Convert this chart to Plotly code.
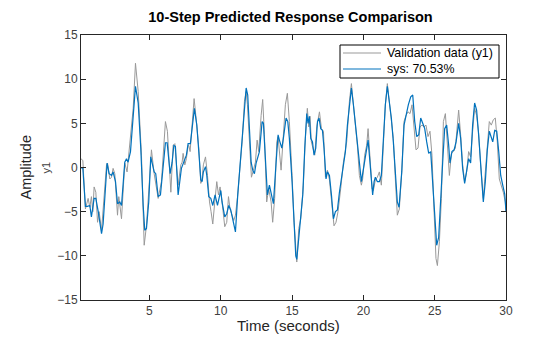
import plotly.graph_objects as go

# ---- Validation data (y1) ----
val_t = [0.19,0.33,0.51,0.70,0.82,0.93,1.03,1.12,1.24,1.36,1.47,1.64,1.99,2.06,2.22,2.34,2.45,2.57,2.76,2.85,3.04,3.27,3.43,3.50,3.86,4.02,4.21,4.44,4.63,4.79,4.95,5.14,5.33,5.61,5.84,6.12,6.26,6.43,6.50,6.66,6.78,7.01,7.20,7.29,7.36,7.48,7.59,7.71,
         7.76,7.85,8.13,8.27,8.46,8.60,8.69,8.78,8.93,9.07,9.21,9.32,9.44,9.58,9.72,9.84,9.95,10.09,10.28,10.42,10.54,10.65,10.79,10.91,11.03,11.19,11.36,11.50,11.66,11.78,11.87,12.01,12.15,12.29,12.43,12.55,12.66,12.83,12.94,13.06,13.22,13.36,13.53,13.64,13.78,13.93,14.02,14.23,14.39,14.53,14.67,14.81,15.00,15.14,
         15.33,15.47,15.61,15.79,15.93,16.07,16.17,16.26,16.35,16.50,16.59,16.73,16.92,17.06,17.20,17.34,17.48,17.62,17.76,17.94,18.08,18.22,18.41,18.60,18.83,19.02,19.16,19.30,19.44,19.58,19.72,19.86,19.95,20.09,20.23,20.33,20.47,20.61,20.70,20.84,20.98,21.12,21.26,21.40,21.54,21.68,21.82,21.96,22.10,22.24,22.38,22.52,
         22.69,22.85,22.99,23.13,23.27,23.41,23.55,23.69,23.83,23.97,24.11,24.25,24.39,24.53,24.67,24.81,24.95,25.09,25.19,25.33,25.47,25.61,25.75,25.89,26.03,26.17,26.31,26.45,26.59,26.68,26.82,26.96,27.10,27.24,27.38,27.52,27.66,27.80,27.94,28.08,28.22,28.41,28.55,28.69,28.83,28.97,29.11,29.25,29.39,29.53,29.67,29.81,29.95,30.0]
val_y = [1.0,0.8,-4.7,-3.5,-4.5,-3.3,-5.0,-2.2,-2.8,-6.2,-5.0,-7.1,0.3,0.5,-1.3,-1.1,-0.1,-0.7,-5.4,-3.3,-5.8,0.5,-0.5,0.8,6.7,11.8,8.6,1.4,-8.8,-6.6,-3.1,2.0,-0.7,-3.5,-1.6,5.2,4.1,-1.6,-2.8,2.5,2.7,-2.0,0.3,0.6,1.6,0.3,1.0,2.5,
         2.5,1.8,7.8,5.6,2.2,-1.8,-1.3,0.3,1.2,-0.9,-3.9,-5.0,-6.4,-3.9,-1.6,-3.1,-2.2,-3.9,-6.7,-6.2,-3.3,-4.7,-5.4,-6.0,-5.4,-3.1,0.3,2.9,7.5,8.6,7.1,3.3,-1.1,-0.3,0.6,3.1,1.8,5.9,7.7,3.7,-3.9,-2.4,-3.9,-6.2,-3.5,2.9,3.5,-0.3,4.4,7.1,8.4,5.2,-0.9,-6.2,
         -10.7,-6.9,-5.8,-2.0,3.3,6.7,4.6,5.8,2.9,1.8,1.4,4.6,6.3,4.4,4.1,-1.1,-0.3,-1.4,-3.5,-6.6,-6.2,-5.0,-2.4,0.6,2.9,7.5,9.5,7.5,4.8,2.5,-0.9,-2.0,-1.3,1.4,2.5,4.4,1.4,-2.4,-2.6,-1.4,-1.1,-0.5,-2.0,3.3,7.1,9.5,7.5,5.2,3.3,-1.3,-5.4,-4.7,
         -0.5,5.2,5.9,6.3,6.1,7.1,4.4,2.0,2.2,4.6,4.8,4.6,4.8,3.5,4.1,1.4,-4.7,-10.3,-11.1,-8.4,-3.5,5.2,6.1,2.9,-0.9,1.6,1.8,2.2,4.6,6.5,3.7,0.3,-1.6,-0.5,1.8,1.2,4.1,6.7,5.9,3.9,0.3,-3.5,-0.5,2.9,5.2,4.8,5.4,5.6,2.9,-1.3,-2.0,-2.8,-3.9,-5.0]

# ---- sys: 70.53% (10-step predicted response) ----
sys_t = [0.19,0.33,0.51,0.65,0.82,0.93,1.12,1.24,1.40,1.64,1.75,2.03,2.17,2.34,2.45,2.62,2.76,2.92,3.04,3.27,3.39,3.50,3.67,3.86,4.02,4.21,4.39,4.56,4.67,4.79,4.95,5.09,5.19,5.33,5.44,5.61,5.77,5.96,6.12,6.24,6.45,6.59,6.71,6.82,7.01,7.24,7.43,7.59,7.71,
         7.76,7.87,8.15,8.32,8.46,8.60,8.69,8.78,8.93,9.02,9.16,9.30,9.44,9.60,9.77,9.91,10.00,10.09,10.28,10.42,10.56,10.70,10.84,11.03,11.19,11.36,11.50,11.66,11.78,11.89,12.01,12.13,12.24,12.36,12.48,12.62,12.71,12.90,12.99,13.13,13.27,13.41,13.53,13.69,13.88,14.02,14.11,14.28,14.39,14.58,14.70,14.81,15.00,15.14,
         15.26,15.33,15.47,15.61,15.75,15.89,16.03,16.12,16.21,16.31,16.43,16.54,16.66,16.78,16.89,17.01,17.13,17.24,17.38,17.48,17.62,17.76,17.90,18.04,18.18,18.32,18.46,18.60,18.74,18.88,19.02,19.16,19.30,19.44,19.58,19.72,19.86,19.95,20.09,20.23,20.33,20.42,20.56,20.65,20.75,20.84,20.98,21.12,21.26,21.40,21.54,21.68,21.82,21.96,22.10,22.24,22.38,22.50,
         22.69,22.85,22.99,23.15,23.32,23.46,23.60,23.74,23.88,24.02,24.16,24.30,24.44,24.58,24.72,24.86,25.00,25.14,25.28,25.42,25.56,25.70,25.84,25.98,26.07,26.21,26.36,26.50,26.68,26.82,26.96,27.10,27.24,27.38,27.52,27.66,27.80,27.94,28.08,28.22,28.41,28.55,28.69,28.83,28.97,29.07,29.21,29.35,29.49,29.63,29.77,29.91,30.0]
sys_y = [0.0,-0.1,-4.4,-4.4,-4.3,-5.6,-3.5,-3.5,-4.9,-7.5,-6.4,0.5,-0.7,-0.9,-0.5,-1.6,-4.1,-3.9,-4.3,0.6,1.0,0.6,1.8,5.6,9.2,7.3,2.2,-4.3,-7.1,-6.9,-3.9,1.2,0.6,-0.5,-0.7,-3.3,-3.1,0.6,2.8,2.8,-0.7,0.6,2.5,2.4,-3.1,-0.1,0.8,1.4,2.7,
         2.7,2.7,6.7,4.8,1.8,-1.4,-1.6,-0.5,0.1,-0.9,-3.3,-3.5,-4.3,-3.1,-4.3,-3.1,-2.6,-3.9,-5.6,-5.2,-4.3,-4.8,-6.0,-7.3,-3.1,0.6,2.7,7.1,9.0,8.2,4.4,0.6,-0.3,-0.7,0.5,1.4,1.8,5.2,5.0,1.0,-3.1,-2.0,-2.8,-4.1,0.6,3.7,3.1,2.2,3.3,5.6,5.2,3.3,-1.6,-6.6,
         -10.0,-10.4,-7.7,-5.6,-3.1,2.2,6.1,5.0,5.8,3.3,2.9,1.4,2.2,5.2,5.6,4.4,4.2,2.2,-1.3,-0.5,-0.9,-3.1,-5.8,-5.0,-4.8,-2.8,-1.1,0.6,1.8,4.8,6.7,9.0,7.1,4.8,2.2,0.3,-1.6,-0.7,0.6,2.2,3.1,1.4,-1.8,-3.1,-1.6,-1.1,-1.6,-1.6,-0.9,3.7,7.1,9.2,7.5,5.6,2.9,-0.9,-3.9,-4.5,
         -0.5,4.8,6.1,7.1,8.0,8.2,5.2,3.5,3.7,5.6,5.0,4.4,2.9,1.6,1.8,-1.6,-5.4,-8.8,-7.9,-4.3,0.6,4.4,4.8,2.5,0.5,1.8,2.0,2.9,5.0,3.3,-0.1,-1.8,-0.5,1.0,0.5,4.8,7.3,6.5,3.7,-0.1,-3.9,-1.6,2.0,4.1,3.3,2.9,4.2,4.1,1.8,-0.9,-2.0,-3.0,-5.0]

series_names = ["Validation data (y1)", "sys: 70.53%"]
series_colors = ["#999999", "#0072BD"]
x_ticks = [5, 10, 15, 20, 25, 30]
y_ticks = [-15, -10, -5, 0, 5, 10, 15]

FONT = "Liberation Sans, Arial, sans-serif"
AX = "#262626"

# plot-area geometry (pixels) used to place the legend box in paper coordinates
L, R, T, B = 81, 506, 35, 300
W, H = R - L, B - T
def px(x):
    return (x - L) / W
def py(y):
    return (B - y) / H

fig = go.Figure()
fig.add_trace(go.Scatter(x=val_t, y=val_y, mode="lines", name=series_names[0],
                         line=dict(color=series_colors[0], width=1)))
fig.add_trace(go.Scatter(x=sys_t, y=sys_y, mode="lines", name=series_names[1],
                         line=dict(color=series_colors[1], width=1.2)))

axis_common = dict(showline=True, linecolor=AX, linewidth=1, mirror="ticks",
                   ticks="inside", ticklen=5, tickcolor=AX, tickwidth=1,
                   showgrid=False, zeroline=False,
                   tickfont=dict(family=FONT, size=12, color="#404040"))

# legend drawn as a compact MATLAB-style box
shapes = [dict(type="rect", xref="paper", yref="paper",
               x0=px(340), x1=px(499), y0=py(78), y1=py(45),
               line=dict(color="#000000", width=1), fillcolor="white", layer="above")]
legend_rows = [53, 69]
annotations = []
for name, color, row in zip(series_names, series_colors, legend_rows):
    shapes.append(dict(type="line", xref="paper", yref="paper",
                       x0=px(343), x1=px(381), y0=py(row), y1=py(row),
                       line=dict(color=color, width=1.2), layer="above"))
    annotations.append(dict(text=name, xref="paper", yref="paper", x=px(385), y=py(row),
                            xanchor="left", yanchor="middle", showarrow=False,
                            font=dict(family=FONT, size=12.4, color="#000000")))

annotations += [
    dict(text="Time (seconds)", xref="paper", yref="paper", x=px(288.5), y=-25 / H,
         xanchor="center", yanchor="middle", showarrow=False,
         font=dict(family=FONT, size=15, color=AX)),
    dict(text="Amplitude", xref="paper", yref="paper", x=-56 / W, y=0.5,
         xanchor="center", yanchor="middle", textangle=-90, showarrow=False,
         font=dict(family=FONT, size=14.5, color=AX)),
    dict(text="y1", xref="paper", yref="paper", x=-36 / W, y=0.5,
         xanchor="center", yanchor="middle", textangle=-90, showarrow=False,
         font=dict(family=FONT, size=11, color="#404040")),
]

fig.update_layout(
    width=560, height=337,
    margin=dict(l=L, r=560 - R, t=T, b=337 - B),
    paper_bgcolor="white", plot_bgcolor="white",
    font=dict(family=FONT, color=AX),
    title=dict(text="<b>10-Step Predicted Response Comparison</b>",
               x=290.5 / 560, xanchor="center", y=1 - 17 / 337, yanchor="middle",
               font=dict(family=FONT, size=14.5, color="#000000")),
    xaxis=dict(range=[0.2, 30], tickvals=x_ticks, **axis_common),
    yaxis=dict(range=[-15, 15], tickvals=y_ticks, **axis_common),
    showlegend=False,
    shapes=shapes,
    annotations=annotations,
)

fig.write_html("out.html")
